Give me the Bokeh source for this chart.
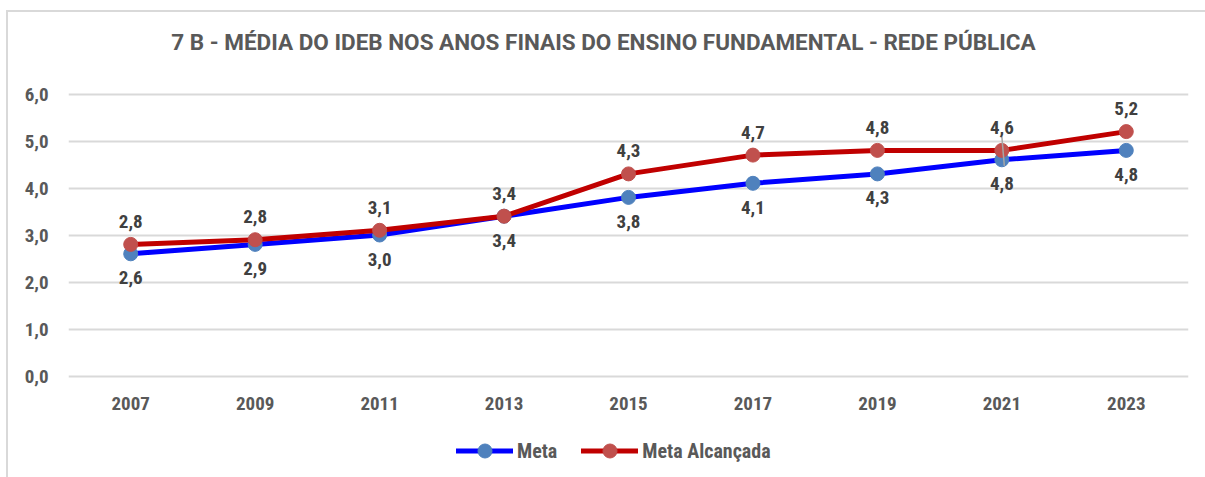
import subprocess
from bokeh.plotting import figure
from bokeh.models import Range1d, Legend, LegendItem, ColumnDataSource, FixedTicker, Label
from bokeh.embed import file_html
from bokeh.resources import INLINE
from bokeh.core.properties import value
from bokeh.transform import dodge

# ---------------- data ----------------
years = ["2007", "2009", "2011", "2013", "2015", "2017", "2019", "2021", "2023"]
meta = [2.6, 2.8, 3.0, 3.4, 3.8, 4.1, 4.3, 4.6, 4.8]
meta_alcancada = [2.8, 2.9, 3.1, 3.4, 4.3, 4.7, 4.8, 4.8, 5.2]
meta_labels = ["2,6", "2,9", "3,0", "3,4", "3,8", "4,1", "4,3", "4,8", "4,8"]
meta_alcancada_labels = ["2,8", "2,8", "3,1", "3,4", "4,3", "4,7", "4,8", "4,6", "5,2"]
y_ticks = [0, 1, 2, 3, 4, 5, 6]
y_tick_labels = ["0,0", "1,0", "2,0", "3,0", "4,0", "5,0", "6,0"]
title_text = "7 B - MÉDIA DO IDEB NOS ANOS FINAIS DO ENSINO FUNDAMENTAL - REDE PÚBLICA"
series_names = ["Meta", "Meta Alcançada"]


def pick_font():
    try:
        out = subprocess.run(["fc-list", ":", "family"], capture_output=True, text=True).stdout
    except Exception:
        out = ""
    for f in ["Liberation Sans Narrow", "Roboto Condensed", "Arial Narrow"]:
        if f in out:
            return f, True
    return "Liberation Sans", False


FONT, NARROW = pick_font()
FS = "19px" if NARROW else "16px"
LFS = "20px" if NARROW else "17px"
TITLE_FONT = "Roboto"
TFS = "22.5px"

# ---------------- layout (pixels) ----------------
W, H = 1205, 477
LEFT, RIGHT = 68, 17
TOP, BOTTOM = 2, 2
FRAME_W = W - LEFT - RIGHT
FRAME_H = H - TOP - BOTTOM
ZERO_Y, TOP_TICK_Y = 375.5, 93.5          # pixel rows of the 0,0 and 6,0 gridlines
PPU = (ZERO_Y - TOP_TICK_Y) / (y_ticks[-1] - y_ticks[0])
y_start = y_ticks[0] - (H - BOTTOM - ZERO_Y) / PPU
y_end = y_ticks[-1] + (TOP_TICK_Y - TOP) / PPU

src = ColumnDataSource(dict(
    year=years, meta=meta, alc=meta_alcancada,
    meta_lab=meta_labels, alc_lab=meta_alcancada_labels,
    base=[y_ticks[0]] * len(years),
))

p = figure(
    x_range=years,
    y_range=Range1d(y_start, y_end),
    frame_width=FRAME_W, frame_height=FRAME_H,
    output_backend="svg", toolbar_location=None,
    x_axis_location=None,
    min_border_left=LEFT, min_border_right=RIGHT,
    min_border_top=TOP, min_border_bottom=BOTTOM,
    background_fill_alpha=0, border_fill_alpha=0,
    outline_line_color=None,
)
# light chart-area frame (top and left edges) painted behind the canvas
p.styles = {
    "background": (
        "linear-gradient(#d9d9d9,#d9d9d9) 7px 10px / 1198px 2px no-repeat, "
        "linear-gradient(#d9d9d9,#d9d9d9) 6px 10px / 2px 467px no-repeat, white"
    )
}

# y axis
p.yaxis.ticker = FixedTicker(ticks=y_ticks)
p.yaxis.major_label_overrides = {t: l for t, l in zip(y_ticks, y_tick_labels)}
p.yaxis.axis_line_color = None
p.yaxis.major_tick_line_color = None
p.yaxis.minor_tick_line_color = None
p.yaxis.major_tick_in = 0
p.yaxis.major_tick_out = 0
p.yaxis.major_label_standoff = 20
p.yaxis.major_label_text_font = FONT
p.yaxis.major_label_text_font_size = FS
p.yaxis.major_label_text_font_style = "bold"
p.yaxis.major_label_text_color = "#595959"

p.xgrid.grid_line_color = None
p.ygrid.grid_line_color = "#d9d9d9"
p.ygrid.grid_line_width = 2

# title
p.add_layout(Label(
    x=603 - LEFT, y=H - BOTTOM - 41.5, x_units="screen", y_units="screen",
    text=title_text, text_align="center", text_baseline="middle",
    text_font=TITLE_FONT, text_font_size=TFS, text_font_style="bold",
    text_color="#595959",
))

# category labels under the 0,0 gridline
p.text("year", "base", text="year", source=src, y_offset=27,
       text_align="center", text_baseline="middle",
       text_font=value(FONT), text_font_size=FS, text_font_style="bold",
       text_color="#595959")

# series
l1 = p.line("year", "meta", source=src, line_color="#0000FF", line_width=5,
            line_cap="round", line_join="round")
s1 = p.scatter("year", "meta", source=src, size=14, fill_color="#4F81BD",
               line_color="#4F81BD")
l2 = p.line("year", "alc", source=src, line_color="#C00000", line_width=5,
            line_cap="round", line_join="round")
s2 = p.scatter("year", "alc", source=src, size=14, fill_color="#C0504D",
               line_color="#C0504D")

# leader line for the 2021 label
lead_src = ColumnDataSource(dict(
    x0=[years[7]], y0=[meta_alcancada[7] + 0.3],
    x1=[years[7]], y1=[meta[7] - 0.13],
))
p.segment(x0=dodge("x0", 0.0, range=p.x_range), y0="y0",
          x1=dodge("x1", 0.02, range=p.x_range), y1="y1",
          source=lead_src, line_color="#a6a6a6", line_width=1.5)

# data labels
p.text("year", "alc", text="alc_lab", source=src, y_offset=-23,
       text_align="center", text_baseline="middle",
       text_font=value(FONT), text_font_size=FS, text_font_style="bold",
       text_color="#404040")
p.text("year", "meta", text="meta_lab", source=src, y_offset=24,
       text_align="center", text_baseline="middle",
       text_font=value(FONT), text_font_size=FS, text_font_style="bold",
       text_color="#404040")

legend = Legend(
    items=[LegendItem(label=series_names[0], renderers=[l1, s1]),
           LegendItem(label=series_names[1], renderers=[l2, s2])],
    orientation="horizontal", location=(388, 7),
    glyph_width=57, glyph_height=35, label_standoff=4, spacing=24,
    padding=4, margin=0,
    label_text_font=FONT, label_text_font_size=LFS, label_text_font_style="bold",
    label_text_color="#595959",
    border_line_color=None, background_fill_alpha=0,
)
p.add_layout(legend, "center")

open("out.html", "w").write(file_html(p, INLINE))
